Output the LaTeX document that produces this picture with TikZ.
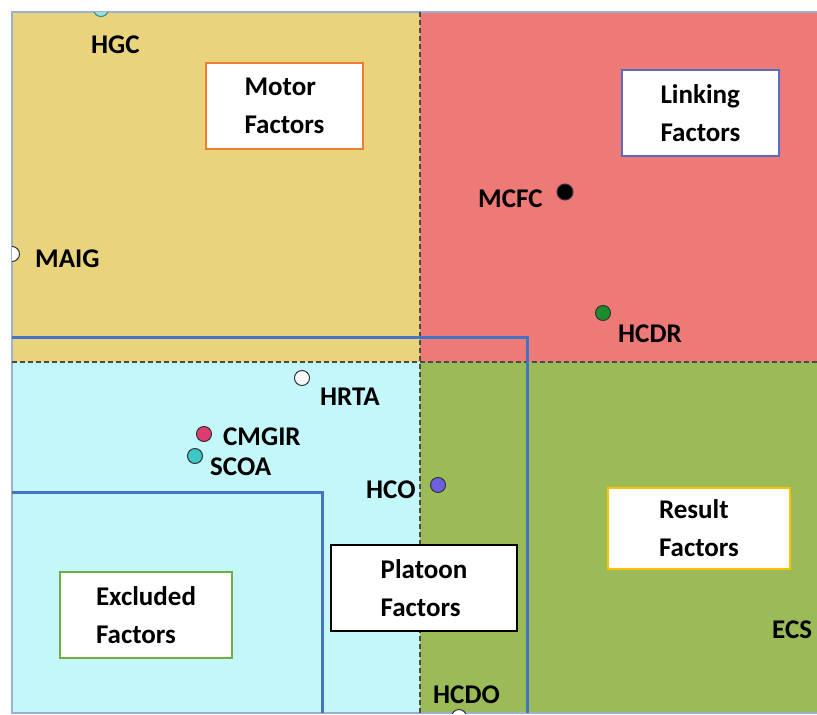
\documentclass[tikz,border=0pt]{standalone}
\usepackage{fontspec}
\setmainfont{Carlito}
\definecolor{qyellow}{HTML}{EAD37D}
\definecolor{qred}{HTML}{EE7A78}
\definecolor{qcyan}{HTML}{C4F7F9}
\definecolor{qgreen}{HTML}{9BBB59}
\definecolor{dashgray}{HTML}{4A4A4A}
\definecolor{groupblue}{HTML}{4472C4}
\definecolor{frameblue}{HTML}{9DB0D0}
\definecolor{motororange}{HTML}{ED7D31}
\definecolor{linkblue}{HTML}{5B6BC0}
\definecolor{resultyellow}{HTML}{FFC000}
\definecolor{exclgreen}{HTML}{70AD47}
\definecolor{dotgreen}{HTML}{1E8C2A}
\definecolor{dotpink}{HTML}{E03C6E}
\definecolor{dotcyan}{HTML}{3CC8C8}
\definecolor{dotpurple}{HTML}{7060E0}
\definecolor{dotteal}{HTML}{9EE0D8}
\begin{document}
\begin{tikzpicture}[x=1pt,y=-1pt,
  lab/.style={font=\fontsize{27}{30}\selectfont\bfseries, inner sep=0pt, anchor=base west, text=black},
  dot/.style={circle, draw=black!80, line width=1pt, minimum size=15pt, inner sep=0pt},
  fbox/.style={draw, line width=2pt, fill=white, align=left, font=\fontsize{27}{38}\selectfont\bfseries, inner sep=0pt, text=black},
  divider/.style={draw=dashgray, line width=1.2pt, dash pattern=on 5pt off 3pt},
  groupline/.style={draw=groupblue, line width=3pt}]
\useasboundingbox (0,0) rectangle (817,715);
% quadrants
\fill[qyellow] (12,12) rectangle (420,362);
\fill[qred] (420,12) rectangle (817,362);
\fill[qcyan] (12,362) rectangle (420,713);
\fill[qgreen] (420,362) rectangle (817,713);
\draw[frameblue, line width=1.5pt] (817,12) -- (12,12) -- (12,713) -- (817,713);
% dividers
\draw[divider] (420,12) -- (420,713);
\draw[divider] (12,362) -- (817,362);
% group lines
\draw[groupline] (12,337) -- (527,337) -- (527,713);
\draw[groupline] (12,492) -- (322,492) -- (322,713);
% category boxes
\node[fbox, draw=motororange, minimum width=157pt, minimum height=86pt] (motor) at (284.5,106) {Motor\\Factors};
\node[fbox, draw=linkblue, minimum width=157pt, minimum height=86pt] (linking) at (700.5,113) {Linking\\Factors};
\node[fbox, draw=resultyellow, minimum width=182pt, minimum height=81pt] (result) at (699,528.5) {Result\\Factors};
\node[fbox, draw=black, minimum width=186pt, minimum height=86pt] (platoon) at (424,588) {Platoon\\Factors};
\node[fbox, draw=exclgreen, minimum width=172pt, minimum height=86pt] (excluded) at (146,615) {Excluded\\Factors};
% clipped dots on the frame
\begin{scope}
\clip (12,12) rectangle (817,713);
\node[dot, fill=dotteal, draw=dotcyan!70!black] (hgcdot) at (101,9) {};
\node[dot, fill=white] (maigdot) at (12,254) {};
\node[dot, fill=white] (hcdodot) at (459,717) {};
\end{scope}
% dots
\node[dot, fill=black, minimum size=16pt] (mcfcdot) at (565,192) {};
\node[dot, fill=dotgreen] (hcdrdot) at (603,313) {};
\node[dot, fill=white] (hrtadot) at (302,378) {};
\node[dot, fill=dotpink] (cmgirdot) at (204,434) {};
\node[dot, fill=dotcyan] (scoadot) at (195,456) {};
\node[dot, fill=dotpurple] (hcodot) at (438,485) {};
% labels
\node[lab] (hgc) at (91,53) {HGC};
\node[lab] (maig) at (35,267) {MAIG};
\node[lab] (mcfc) at (478,207) {MCFC};
\node[lab] (hcdr) at (618,342) {HCDR};
\node[lab] (hrta) at (320,405) {HRTA};
\node[lab] (cmgir) at (223,445) {CMGIR};
\node[lab] (scoa) at (210,475) {SCOA};
\node[lab] (hco) at (366,498) {HCO};
\node[lab] (hcdo) at (433,703) {HCDO};
\node[lab] (ecs) at (772,638) {ECS};
\end{tikzpicture}
\end{document}
